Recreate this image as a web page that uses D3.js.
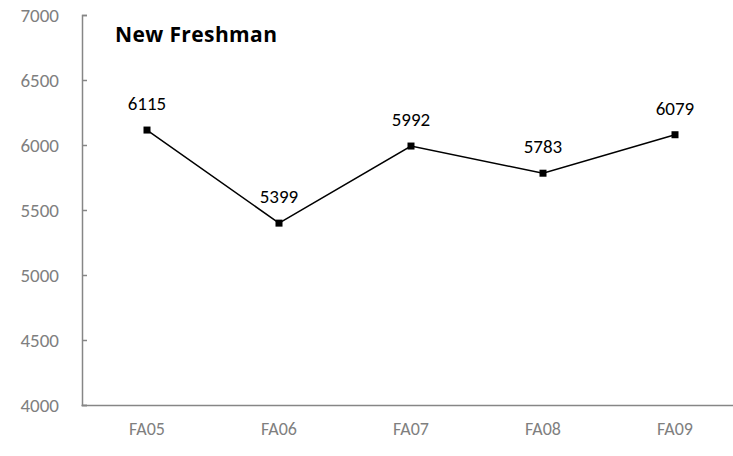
<!DOCTYPE html>
<html>
<head>
<meta charset="utf-8">
<script src="https://cdn.jsdelivr.net/npm/d3@7"></script>
<style>
	body { margin: 0; background: #fff; }
	svg { display: block; font-family: Carlito, Calibri, Lato, sans-serif; }
</style>
</head>
<body>
<svg id="chart"></svg>
<script>
const terms = ["FA05", "FA06", "FA07", "FA08", "FA09"];
const freshmen = [6115, 5399, 5992, 5783, 6079];
const yTicks = [4000, 4500, 5000, 5500, 6000, 6500, 7000];

var width = 733;
var height = 456;
var axisColor = "#868686";
var fontStack = "Carlito, Calibri, Lato, sans-serif";

var svg = d3.select("#chart")
	.attr("width", width)
	.attr("height", height);

// category bands run past the right edge, like the original
var x = d3.scaleBand()
	.domain(terms)
	.range([81, 741]);

var y = d3.scaleLinear()
	.domain([4000, 7000])
	.range([405, 15]);

// y axis, ticks pointing inward
var yAxis = svg.append("g")
	.attr("transform", "translate(82,0)")
	.call(d3.axisLeft(y).tickValues(yTicks).tickFormat(d3.format("d")).tickSize(-5).tickPadding(23));
yAxis.select(".domain").attr("stroke", axisColor).attr("stroke-width", 1.5);
yAxis.selectAll(".tick line").attr("stroke", axisColor).attr("stroke-width", 1.5);
yAxis.selectAll(".tick text")
	.attr("fill", "#7f7f7f")
	.style("font-size", "19px")
	.style("font-family", fontStack);

// x axis line to the edge of the canvas
var xAxis = svg.append("g")
	.attr("transform", "translate(0," + y(4000) + ")")
	.call(d3.axisBottom(x).tickSize(0).tickPadding(17).tickSizeOuter(0));
xAxis.select(".domain").attr("stroke", axisColor).attr("stroke-width", 1.5);
xAxis.selectAll(".tick text")
	.attr("fill", "#7f7f7f")
	.style("font-size", "18px")
	.style("font-family", fontStack);

var cx = function(d, i) { return x(terms[i]) + x.bandwidth() / 2; };

svg.append("path")
	.datum(freshmen)
	.attr("fill", "none")
	.attr("stroke", "#000")
	.attr("stroke-width", 1.5)
	.attr("d", d3.line().x(cx).y(function(d) { return y(d); }));

svg.selectAll("rect.marker")
	.data(freshmen)
	.enter()
	.append("rect")
	.attr("class", "marker")
	.attr("x", function(d, i) { return cx(d, i) - 3.5; })
	.attr("y", function(d) { return y(d) - 3.5; })
	.attr("width", 7)
	.attr("height", 7)
	.attr("fill", "#000");

svg.selectAll("text.value")
	.data(freshmen)
	.enter()
	.append("text")
	.attr("class", "value")
	.attr("x", cx)
	.attr("y", function(d) { return y(d) - 20; })
	.attr("text-anchor", "middle")
	.style("font-size", "19px")
	.attr("fill", "#000")
	.text(function(d) { return d; });

svg.append("text")
	.attr("x", 115)
	.attr("y", 42)
	.attr("textLength", 162)
	.attr("lengthAdjust", "spacing")
	.style("font-family", "'Open Sans', sans-serif")
	.style("font-size", "21px")
	.style("font-weight", "bold")
	.attr("fill", "#000")
	.text("New Freshman");
</script>
</body>
</html>
